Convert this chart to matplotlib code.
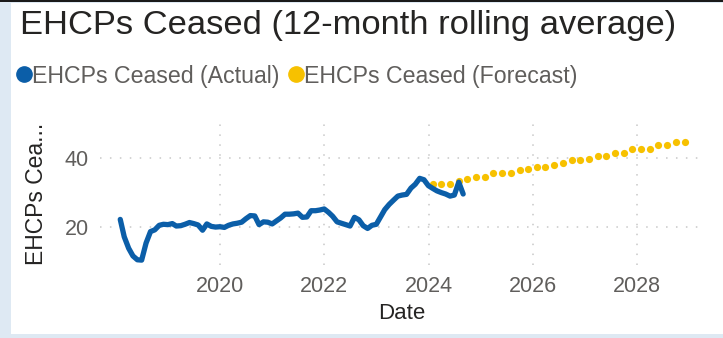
import datetime as dt
import numpy as np
import pandas as pd
import matplotlib
matplotlib.use("Agg")
import matplotlib.pyplot as plt
import matplotlib.dates as mdates
from matplotlib.lines import Line2D
from matplotlib.patches import Rectangle

plt.rcParams['font.family'] = ['Liberation Sans', 'DejaVu Sans']

# 12-month rolling average, month-end values
actual_start = "2018-01-31"
actual_values = [
    22.3, 17.3, 14.0, 11.8, 10.7, 10.6, 15.5, 18.8, 19.3, 20.6, 20.9, 20.8,
    21.1, 20.4, 20.5, 20.9, 21.4, 21.1, 20.7, 19.2, 21.0, 20.3, 20.1, 20.2,
    20.0, 20.6, 21.0, 21.2, 21.5, 22.5, 23.4, 23.3, 20.8, 21.6, 21.5, 21.0,
    21.9, 22.7, 23.8, 23.8, 23.9, 24.1, 22.9, 23.0, 24.8, 24.8, 25.0, 25.3,
    24.3, 23.2, 21.6, 21.2, 20.8, 20.4, 22.9, 22.2, 20.5, 19.7, 20.6, 20.9,
    23.1, 25.1, 26.6, 27.8, 29.0, 29.3, 29.5, 31.3, 32.4, 34.1, 33.7, 32.0,
    31.2, 30.5, 30.0, 29.6, 29.0, 29.3, 33.0, 29.6,
]

# forecast, every second month
forecast_start = "2024-01-31"
forecast_values = [
    32.4, 32.4, 32.4, 33.4, 33.8, 34.4, 34.4, 35.5, 35.5, 35.7,
    36.5, 36.7, 37.4, 37.4, 37.9, 38.4, 39.5, 39.5, 39.7, 40.5,
    40.5, 41.4, 41.4, 42.4, 42.4, 42.4, 43.6, 43.6, 44.5, 44.5,
]

year_ticks = [2020, 2022, 2024, 2026, 2028]

actual_dates = pd.date_range(actual_start, periods=len(actual_values), freq="ME")
forecast_dates = pd.date_range(forecast_start, periods=len(forecast_values), freq="2ME")

blue = "#0b5ea8"
yellow = "#f7c100"
grey_text = "#605e5c"
dark_text = "#252423"

fig = plt.figure(figsize=(7.23, 3.38), dpi=100)

# card background / border
fig.patches.append(Rectangle((0, 0), 1, 1, transform=fig.transFigure,
                             facecolor="#dee9f3", edgecolor="none", zorder=-3))
fig.patches.append(Rectangle((11 / 723, 4 / 338), 1, 331 / 338, transform=fig.transFigure,
                             facecolor="white", edgecolor="none", zorder=-2))
fig.patches.append(Rectangle((0, 336 / 338), 1, 2 / 338, transform=fig.transFigure,
                             facecolor="#1a1a1a", edgecolor="none", zorder=-1))

ax = fig.add_axes([0.1383, 0.216, 0.834, 0.420])
ax.set_facecolor("none")

ax.plot(actual_dates, actual_values, color=blue, lw=3.8,
        solid_capstyle="round", solid_joinstyle="round", zorder=3)
ax.plot(forecast_dates, forecast_values, color=yellow, ls="none",
        marker="o", markersize=5.2, markeredgewidth=0, zorder=2)

ax.set_xlim(dt.date(2017, 9, 11), dt.date(2029, 4, 8))
ax.set_ylim(9.2, 50)
ax.set_yticks([20, 40])
ax.set_xticks([dt.date(y, 1, 1) for y in year_ticks])
ax.xaxis.set_major_formatter(mdates.DateFormatter("%Y"))

ax.grid(True, color="#c8c8c8", linestyle=(0, (1, 5.5)), linewidth=1.1)
for s in ax.spines.values():
    s.set_visible(False)
ax.tick_params(length=0, labelsize=15.5, labelcolor=grey_text, pad=8)

ax.set_xlabel("Date", fontsize=16, color=dark_text, labelpad=4)
ax.set_ylabel("EHCPs Cea...", fontsize=16.5, color=dark_text, labelpad=12)

fig.text(20 / 723, 1 - 10 / 338, "EHCPs Ceased (12-month rolling average)",
         fontsize=24.8, color=dark_text, ha="left", va="top")

handles = [Line2D([], [], ls="none", marker="o", color=blue, markersize=11),
           Line2D([], [], ls="none", marker="o", color=yellow, markersize=11)]
leg = fig.legend(handles, ["EHCPs Ceased (Actual)", "EHCPs Ceased (Forecast)"],
                 loc="center left", bbox_to_anchor=(0.0, 1 - 76 / 338), ncol=2,
                 frameon=False, fontsize=16.7, handlelength=0.65, handletextpad=0.02,
                 columnspacing=0.4, borderaxespad=0.3)
for t in leg.get_texts():
    t.set_color(grey_text)

fig.savefig("out.png", dpi=100)
